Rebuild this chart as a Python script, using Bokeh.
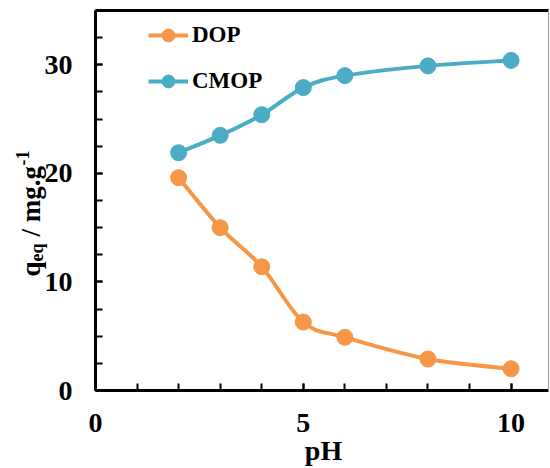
import math
import numpy as np
from bokeh.plotting import figure
from bokeh.models import (Range1d, FixedTicker, Label, Legend, LegendItem,
                          ColumnDataSource, LinearAxis)
from bokeh.embed import file_html
from bokeh.resources import INLINE

# ---- data ----
ph = [2, 3, 4, 5, 6, 8, 10]
dop = [19.6, 15.0, 11.4, 6.3, 4.9, 2.9, 2.0]
cmop = [21.9, 23.5, 25.4, 27.9, 29.0, 29.9, 30.4]
x_major = [0, 5, 10]
y_major = [0, 10, 20, 30]
x_minor = [0, 1, 2, 3, 4, 5, 6, 7, 8, 9, 10]
y_minor = [0, 2.5, 5, 7.5, 10, 12.5, 15, 17.5, 20, 22.5, 25, 27.5, 30, 32.5, 35]

ORANGE = "#F79646"
BLUE = "#4BACC6"
FONT = "Liberation Serif"

# ---- layout (pixel placement of the axes box within the 550x468 canvas) ----
W, H = 550, 468
XMIN, XMAX, YMIN, YMAX = 0, 10.9, 0, 35
PX_L, PX_R, PX_T, PX_B = 95, 548, 10, 390
kx = (PX_R - PX_L) / (XMAX - XMIN)
ky = (PX_B - PX_T) / (YMAX - YMIN)
xr = Range1d(XMIN - PX_L / kx, XMAX + (W - PX_R) / kx)
yr = Range1d(YMIN - (H - PX_B) / ky, YMAX + PX_T / ky)

p = figure(width=W, height=H, output_backend="svg", toolbar_location=None,
           x_range=xr, y_range=yr, min_border=0,
           x_axis_location=None, y_axis_location=None)
p.outline_line_color = None
p.xgrid.visible = False
p.ygrid.visible = False
p.background_fill_color = "white"
p.border_fill_color = "white"


def smooth_segments(xs, ys):
    xs = np.asarray(xs, float)
    ys = np.asarray(ys, float)
    n = len(xs)
    xp = np.concatenate([[xs[0]], xs, [xs[-1]]])
    yp = np.concatenate([[ys[0]], ys, [ys[-1]]])
    d = dict(x0=[], y0=[], x1=[], y1=[], cx0=[], cy0=[], cx1=[], cy1=[])
    for i in range(n - 1):
        a, b, c, e = i, i + 1, i + 2, i + 3
        d["x0"].append(xp[b]); d["y0"].append(yp[b])
        d["x1"].append(xp[c]); d["y1"].append(yp[c])
        d["cx0"].append(xp[b] + (xp[c] - xp[a]) / 6)
        d["cy0"].append(yp[b] + (yp[c] - yp[a]) / 6)
        d["cx1"].append(xp[c] - (xp[e] - xp[b]) / 6)
        d["cy1"].append(yp[c] - (yp[e] - yp[b]) / 6)
    return ColumnDataSource(d)


items = []
for name, vals, col in [("DOP", dop, ORANGE), ("CMOP", cmop, BLUE)]:
    src = smooth_segments(ph, vals)
    bz = p.bezier(x0="x0", y0="y0", x1="x1", y1="y1", cx0="cx0", cy0="cy0",
                  cx1="cx1", cy1="cy1", source=src, line_color=col, line_width=4)
    sc = p.scatter(ph, vals, size=16, fill_color=col, line_color=col)
    items.append(LegendItem(label=name, renderers=[bz, sc]))


def style_axis(ax):
    ax.axis_line_width = 3
    ax.axis_line_color = "black"
    ax.major_tick_in = 7
    ax.major_tick_out = 0
    ax.minor_tick_in = 7
    ax.minor_tick_out = 0
    ax.major_tick_line_width = 2
    ax.minor_tick_line_width = 2
    ax.major_label_text_font = FONT
    ax.major_label_text_font_style = "bold"
    ax.major_label_text_font_size = "28px"
    ax.major_label_text_color = "black"


xaxis = LinearAxis(fixed_location=YMIN, bounds=(XMIN, XMAX),
                   ticker=FixedTicker(ticks=x_major, minor_ticks=x_minor),
                   major_label_standoff=23)
yaxis = LinearAxis(fixed_location=XMIN, bounds=(YMIN, YMAX),
                   ticker=FixedTicker(ticks=y_major, minor_ticks=y_minor),
                   major_label_standoff=23)
style_axis(xaxis)
style_axis(yaxis)
p.add_layout(xaxis, "below")
p.add_layout(yaxis, "left")

# frame borders: thick top, thin grey right
top = LinearAxis(fixed_location=YMAX, bounds=(XMIN, XMAX), ticker=FixedTicker(ticks=[]),
                 axis_line_width=3, axis_line_color="black",
                 major_tick_line_color=None, minor_tick_line_color=None,
                 major_label_text_alpha=0)
right = LinearAxis(fixed_location=XMAX, bounds=(YMIN, YMAX), ticker=FixedTicker(ticks=[]),
                   axis_line_width=1, axis_line_color="#999999",
                   major_tick_line_color=None, minor_tick_line_color=None,
                   major_label_text_alpha=0)
p.add_layout(top, "above")
p.add_layout(right, "right")

# x axis title
p.add_layout(Label(x=323, y=18, x_units="screen", y_units="screen", text="pH",
                   text_align="center", text_baseline="alphabetic", text_font=FONT,
                   text_font_style="bold", text_font_size="28px", text_color="black"))

# y axis title, rotated, with subscript and superscript
ylx, yly = 30, H - 276
parts = [("q", "27px", 0, 0), ("eq", "18px", 6, 15), ("/ mg.g", "27px", 0, 40),
         ("-1", "18px", -8, 111)]
for t, fs, dx, dy in parts:
    p.add_layout(Label(x=ylx + dx, y=yly + dy, x_units="screen", y_units="screen",
                       text=t, angle=math.pi / 2, text_align="left",
                       text_baseline="alphabetic", text_font=FONT,
                       text_font_style="bold", text_font_size=fs,
                       text_color="black"))

legend = Legend(items=items, location=(148, H - 97), orientation="vertical",
                glyph_width=40, glyph_height=32, label_height=32, spacing=14,
                label_standoff=4, padding=0, margin=0,
                label_text_font=FONT, label_text_font_style="bold",
                label_text_font_size="23px", label_text_color="black",
                border_line_color=None, background_fill_alpha=0)
p.add_layout(legend)

open("out.html", "w").write(file_html(p, INLINE))
